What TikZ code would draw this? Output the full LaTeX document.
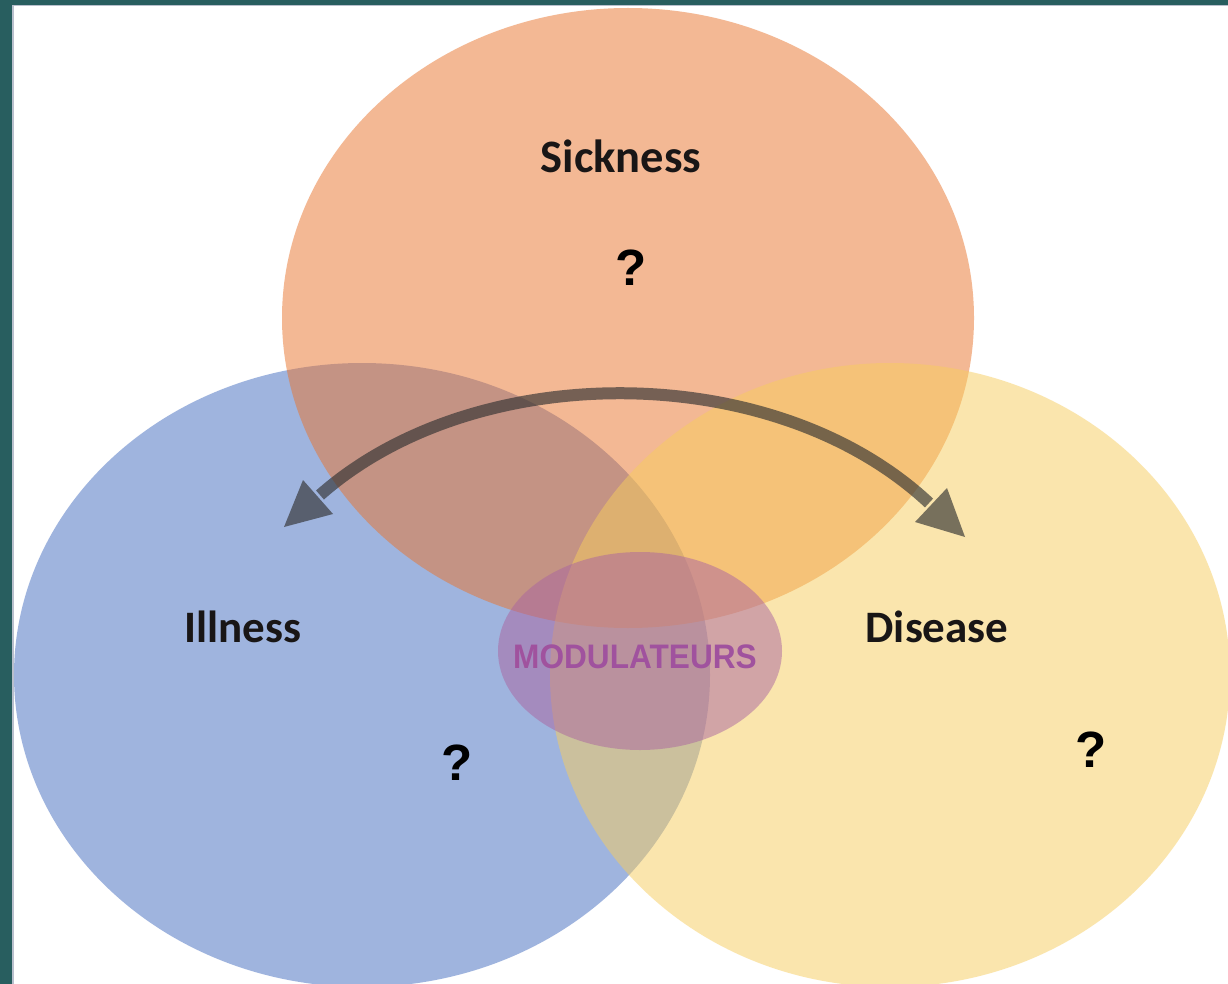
\documentclass[tikz,border=0pt]{standalone}
\usepackage{fontspec}
\usetikzlibrary{shapes.geometric}
\newfontfamily\labfont{Carlito}
\newfontfamily\arialfont{Liberation Sans}
\newfontfamily\modfont{Liberation Sans}[FakeStretch=0.93]
\definecolor{sickC}{RGB}{233,115,43}
\definecolor{illC}{RGB}{65,107,191}
\definecolor{disC}{RGB}{247,205,93}
\definecolor{modC}{RGB}{170,100,160}
\definecolor{modText}{RGB}{160,82,158}
\definecolor{frameC}{RGB}{40,94,95}
\definecolor{arrowC}{RGB}{50,50,50}
\definecolor{labC}{RGB}{25,22,22}
\tikzset{
  blob/.style={ellipse, inner sep=0pt, draw=none, fill opacity=0.5},
  lab/.style={font=\labfont\bfseries\fontsize{45}{50}\selectfont, text=labC, anchor=base, inner sep=0pt},
  qmark/.style={font=\arialfont\bfseries\fontsize{51}{55}\selectfont, text=black, anchor=base, inner sep=0pt},
  modlab/.style={font=\modfont\bfseries\fontsize{34}{38}\selectfont, text=modText, anchor=base, inner sep=0pt},
  shaft/.style={draw=arrowC, line width=12pt, line cap=butt},
  headtri/.style={fill=arrowC}
}
\begin{document}
\begin{tikzpicture}[x=1pt,y=-1pt]
\useasboundingbox (0,0) rectangle (1228,984);
\fill[white] (0,0) rectangle (1228,984);
\begin{scope}
\clip (0,0) rectangle (1228,984);
\node[blob, fill=illC, minimum width=696pt, minimum height=624pt] (ill) at (362,675) {};
\node[blob, fill=sickC, minimum width=692pt, minimum height=620pt] (sick) at (628,318) {};
\node[blob, fill=disC, minimum width=680pt, minimum height=624pt] (dis) at (890,675) {};
\node[blob, fill=modC, minimum width=284pt, minimum height=198pt] (mod) at (640,651) {};
\end{scope}
% double-headed curved arrow
\coordinate (tipL) at (284,527);
\coordinate (baseL) at (320,495);
\coordinate (cornL1) at (333,514);
\coordinate (cornL2) at (303,480);
\coordinate (tipR) at (965,537);
\coordinate (baseR) at (929,503);
\coordinate (cornR1) at (947,488);
\coordinate (cornR2) at (915,522);
\coordinate (ctl1) at (475,358);
\coordinate (ctl2) at (774,358);
\begin{scope}[transparency group, opacity=0.65]
\draw[shaft] (baseL) .. controls (ctl1) and (ctl2) .. (baseR);
\fill[headtri] (tipL) -- (cornL1) -- (cornL2) -- cycle;
\fill[headtri] (tipR) -- (cornR1) -- (cornR2) -- cycle;
\end{scope}
% labels
\node[lab, font=\labfont\bfseries\fontsize{46.5}{50}\selectfont] (tsick) at (621,173) {Sickness};
\node[lab] (till) at (243,642) {Illness};
\node[lab] (tdis) at (937,642) {Disease};
\node[modlab] (tmod) at (635,668) {MODULATEURS};
\node[qmark] (q1) at (631,285) {?};
\node[qmark] (q2) at (457,780) {?};
\node[qmark] (q3) at (1091,767) {?};
% frame
\fill[frameC] (0,0) rectangle (12,984);
\fill[frameC] (0,0) rectangle (1228,5);
\draw[line width=1.5pt, color={rgb,255:red,185;green,192;blue,205}] (12.75,984) -- (12.75,5.75) -- (1228,5.75);
\end{tikzpicture}
\end{document}
